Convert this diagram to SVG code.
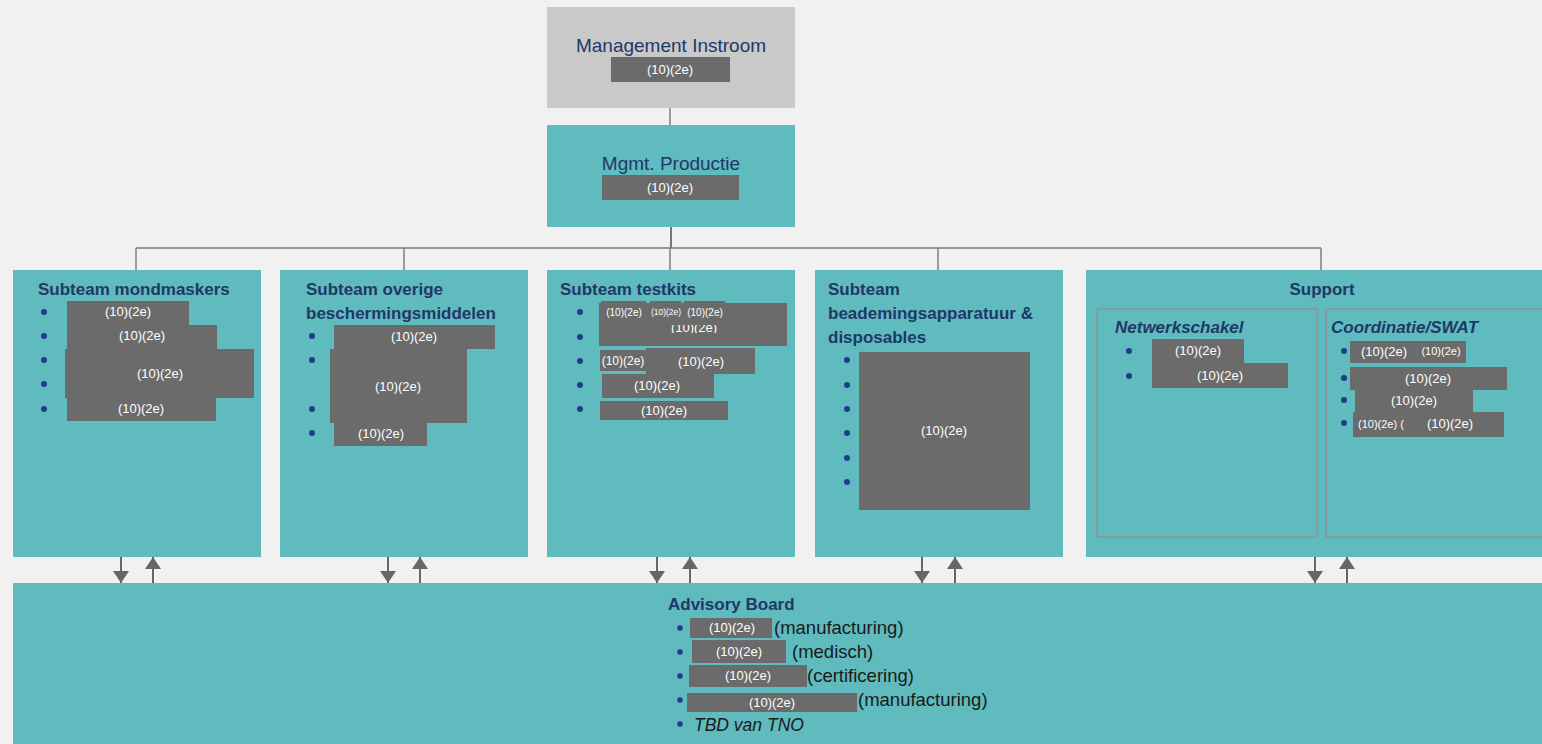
<svg xmlns="http://www.w3.org/2000/svg" width="1542" height="744" viewBox="0 0 1542 744">
<defs>
<style>
.bg{fill:#f1f1f1}
.box{fill:#5fbbbd}
.mgmt{fill:#c9c9c9}
.inner{fill:#5fbbbd;stroke:#949494;stroke-width:1.5}
.red{fill:#6b6b6b}
.rt{fill:#ffffff;font-family:"Liberation Sans",Arial,sans-serif;font-size:13px;text-anchor:middle}
.rs{font-size:10px}
.title{fill:#1f3867;font-family:"Liberation Sans",Arial,sans-serif;font-size:17px;font-weight:bold}
.head{fill:#1f3867;font-family:"Liberation Sans",Arial,sans-serif;font-size:19px;text-anchor:middle}
.bi{font-style:italic}
.body{fill:#1a1a1a;font-family:"Liberation Sans",Arial,sans-serif;font-size:18.5px}
.bul{fill:#1f3c8c}
.conn{stroke:#777777;stroke-width:1.4;fill:none}
.arr{stroke:#666666;stroke-width:2;fill:none;marker-end:url(#ah)}
</style>
<marker id="ah" viewBox="0 0 12 16" refX="12" refY="8" markerWidth="12" markerHeight="16" orient="auto" markerUnits="userSpaceOnUse">
<path d="M0,0 L12,8 L0,16 z" fill="#666666"/>
</marker>
<clipPath id="clipG"><rect x="600" y="325" width="186" height="8"/></clipPath>
</defs>
<rect class="bg" x="0" y="0" width="1542" height="744"/>

<g id="connectors">
<line class="conn" x1="670" y1="108" x2="670" y2="125"/>
<line class="conn" x1="671" y1="227" x2="671" y2="248" style="stroke-width:2"/>
<line class="conn" x1="136" y1="248" x2="1321" y2="248"/>
<line class="conn" x1="136" y1="248" x2="136" y2="270"/>
<line class="conn" x1="404" y1="248" x2="404" y2="270"/>
<line class="conn" x1="670" y1="248" x2="670" y2="270"/>
<line class="conn" x1="938" y1="248" x2="938" y2="270"/>
<line class="conn" x1="1321" y1="248" x2="1321" y2="270"/>
<line class="arr" x1="121" y1="557" x2="121" y2="583"/>
<line class="arr" x1="153" y1="583" x2="153" y2="557"/>
<line class="arr" x1="388" y1="557" x2="388" y2="583"/>
<line class="arr" x1="420" y1="583" x2="420" y2="557"/>
<line class="arr" x1="657" y1="557" x2="657" y2="583"/>
<line class="arr" x1="690" y1="583" x2="690" y2="557"/>
<line class="arr" x1="922" y1="557" x2="922" y2="583"/>
<line class="arr" x1="955" y1="583" x2="955" y2="557"/>
<line class="arr" x1="1315" y1="557" x2="1315" y2="583"/>
<line class="arr" x1="1347" y1="583" x2="1347" y2="557"/>
</g>

<g id="management-instroom">
<rect class="mgmt" x="547" y="7" width="248" height="101"/>
<text class="head" x="671" y="52">Management Instroom</text>
<rect class="red" x="611" y="57" width="119" height="25"/>
<text class="rt" x="670" y="74">(10)(2e)</text>
</g>

<g id="mgmt-productie">
<rect class="box" x="547" y="125" width="248" height="102"/>
<text class="head" x="671" y="170">Mgmt. Productie</text>
<rect class="red" x="602" y="175" width="137" height="25"/>
<text class="rt" x="670" y="192">(10)(2e)</text>
</g>

<g id="subteam-mondmaskers">
<rect class="box" x="13" y="270" width="248" height="287"/>
<text class="title" x="38" y="295">Subteam mondmaskers</text>
<circle class="bul" cx="44" cy="312" r="3"/>
<circle class="bul" cx="44" cy="336" r="3"/>
<circle class="bul" cx="44" cy="360" r="3"/>
<circle class="bul" cx="44" cy="384" r="3"/>
<circle class="bul" cx="44" cy="409" r="3"/>
<rect class="red" x="67" y="301" width="122" height="24"/>
<rect class="red" x="67" y="325" width="150" height="25"/>
<rect class="red" x="65" y="349" width="189" height="49"/>
<rect class="red" x="67" y="397" width="149" height="24"/>
<text class="rt" x="128" y="316">(10)(2e)</text>
<text class="rt" x="142" y="340">(10)(2e)</text>
<text class="rt" x="160" y="378">(10)(2e)</text>
<text class="rt" x="141" y="413">(10)(2e)</text>
</g>

<g id="subteam-overige">
<rect class="box" x="280" y="270" width="248" height="287"/>
<text class="title" x="306" y="295">Subteam overige</text>
<text class="title" x="306" y="319">beschermingsmiddelen</text>
<circle class="bul" cx="312" cy="336" r="3"/>
<circle class="bul" cx="312" cy="360" r="3"/>
<circle class="bul" cx="312" cy="409" r="3"/>
<circle class="bul" cx="312" cy="433" r="3"/>
<rect class="red" x="334" y="325" width="161" height="24"/>
<rect class="red" x="330" y="349" width="137" height="74"/>
<rect class="red" x="334" y="422" width="93" height="24"/>
<text class="rt" x="414" y="341">(10)(2e)</text>
<text class="rt" x="398" y="391">(10)(2e)</text>
<text class="rt" x="381" y="438">(10)(2e)</text>
</g>

<g id="subteam-testkits">
<rect class="box" x="547" y="270" width="248" height="287"/>
<text class="title" x="560" y="295">Subteam testkits</text>
<circle class="bul" cx="580" cy="312" r="3"/>
<circle class="bul" cx="580" cy="337" r="3"/>
<circle class="bul" cx="580" cy="361" r="3"/>
<circle class="bul" cx="580" cy="385" r="3"/>
<circle class="bul" cx="580" cy="409" r="3"/>
<rect class="red" x="599" y="303" width="188" height="43"/>
<rect class="red" x="601" y="301" width="45" height="4"/>
<rect class="red" x="650" y="301" width="31" height="4"/>
<rect class="red" x="684" y="301" width="41" height="4"/>
<text class="rt rs" x="624" y="316">(10)(2e)</text>
<text class="rt" x="666" y="315" style="font-size:8.5px">(10)(2e)</text>
<text class="rt rs" x="705" y="316">(10)(2e)</text>
<text class="rt" x="694" y="332" clip-path="url(#clipG)">(10)(2e)</text>
<rect class="red" x="600" y="350" width="47" height="21"/>
<rect class="red" x="646" y="348" width="109" height="26"/>
<rect class="red" x="602" y="374" width="112" height="24"/>
<rect class="red" x="600" y="401" width="128" height="19"/>
<text class="rt" x="623" y="365" style="font-size:12px">(10)(2e)</text>
<text class="rt" x="701" y="366">(10)(2e)</text>
<text class="rt" x="657" y="390">(10)(2e)</text>
<text class="rt" x="664" y="415">(10)(2e)</text>
</g>

<g id="subteam-beademing">
<rect class="box" x="815" y="270" width="248" height="287"/>
<text class="title" x="828" y="295">Subteam</text>
<text class="title" x="828" y="319">beademingsapparatuur &amp;</text>
<text class="title" x="828" y="343">disposables</text>
<circle class="bul" cx="847" cy="360" r="3"/>
<circle class="bul" cx="847" cy="385" r="3"/>
<circle class="bul" cx="847" cy="409" r="3"/>
<circle class="bul" cx="847" cy="433" r="3"/>
<circle class="bul" cx="847" cy="458" r="3"/>
<circle class="bul" cx="847" cy="482" r="3"/>
<rect class="red" x="859" y="352" width="171" height="158"/>
<text class="rt" x="944" y="435">(10)(2e)</text>
</g>

<g id="support">
<rect class="box" x="1086" y="270" width="460" height="287"/>
<text class="title" x="1322" y="295" text-anchor="middle">Support</text>
<rect class="inner" x="1097" y="309" width="220" height="228"/>
<rect class="inner" x="1326" y="309" width="222" height="228"/>
<text class="title bi" x="1115" y="333">Netwerkschakel</text>
<text class="title bi" x="1331" y="333">Coordinatie/SWAT</text>
<circle class="bul" cx="1129" cy="351" r="3"/>
<circle class="bul" cx="1129" cy="376" r="3"/>
<rect class="red" x="1152" y="339" width="92" height="24"/>
<rect class="red" x="1152" y="363" width="136" height="25"/>
<text class="rt" x="1198" y="355">(10)(2e)</text>
<text class="rt" x="1220" y="380">(10)(2e)</text>
<circle class="bul" cx="1344" cy="351" r="3"/>
<circle class="bul" cx="1344" cy="378" r="3"/>
<circle class="bul" cx="1344" cy="400" r="3"/>
<circle class="bul" cx="1344" cy="423" r="3"/>
<rect class="red" x="1350" y="341" width="116" height="22"/>
<rect class="red" x="1350" y="367" width="157" height="23"/>
<rect class="red" x="1355" y="390" width="118" height="22"/>
<rect class="red" x="1353" y="412" width="151" height="25"/>
<text class="rt" x="1384" y="356">(10)(2e)</text>
<text class="rt" x="1441" y="355" style="font-size:11px">(10)(2e)</text>
<text class="rt" x="1428" y="383">(10)(2e)</text>
<text class="rt" x="1414" y="405">(10)(2e)</text>
<text class="rt" x="1358" y="428" style="font-size:11px;text-anchor:start">(10)(2e) (</text>
<text class="rt" x="1450" y="428">(10)(2e)</text>
</g>

<g id="advisory-board">
<rect class="box" x="13" y="583" width="1533" height="165"/>
<text class="title" x="668" y="610">Advisory Board</text>
<circle class="bul" cx="680" cy="628" r="2.8"/>
<circle class="bul" cx="680" cy="652" r="2.8"/>
<circle class="bul" cx="680" cy="676" r="2.8"/>
<circle class="bul" cx="680" cy="700" r="2.8"/>
<circle class="bul" cx="680" cy="724" r="2.8"/>
<rect class="red" x="690" y="618" width="82" height="20"/>
<rect class="red" x="692" y="640" width="94" height="23"/>
<rect class="red" x="689" y="665" width="118" height="22"/>
<rect class="red" x="687" y="693" width="170" height="19"/>
<text class="rt" x="732" y="632">(10)(2e)</text>
<text class="rt" x="739" y="656">(10)(2e)</text>
<text class="rt" x="748" y="680">(10)(2e)</text>
<text class="rt" x="772" y="707">(10)(2e)</text>
<text class="body" x="774" y="634">(manufacturing)</text>
<text class="body" x="792" y="658">(medisch)</text>
<text class="body" x="807" y="682">(certificering)</text>
<text class="body" x="858" y="706">(manufacturing)</text>
<text class="body" x="694" y="731" style="font-style:italic;font-size:17.5px">TBD van TNO</text>
</g>
</svg>
